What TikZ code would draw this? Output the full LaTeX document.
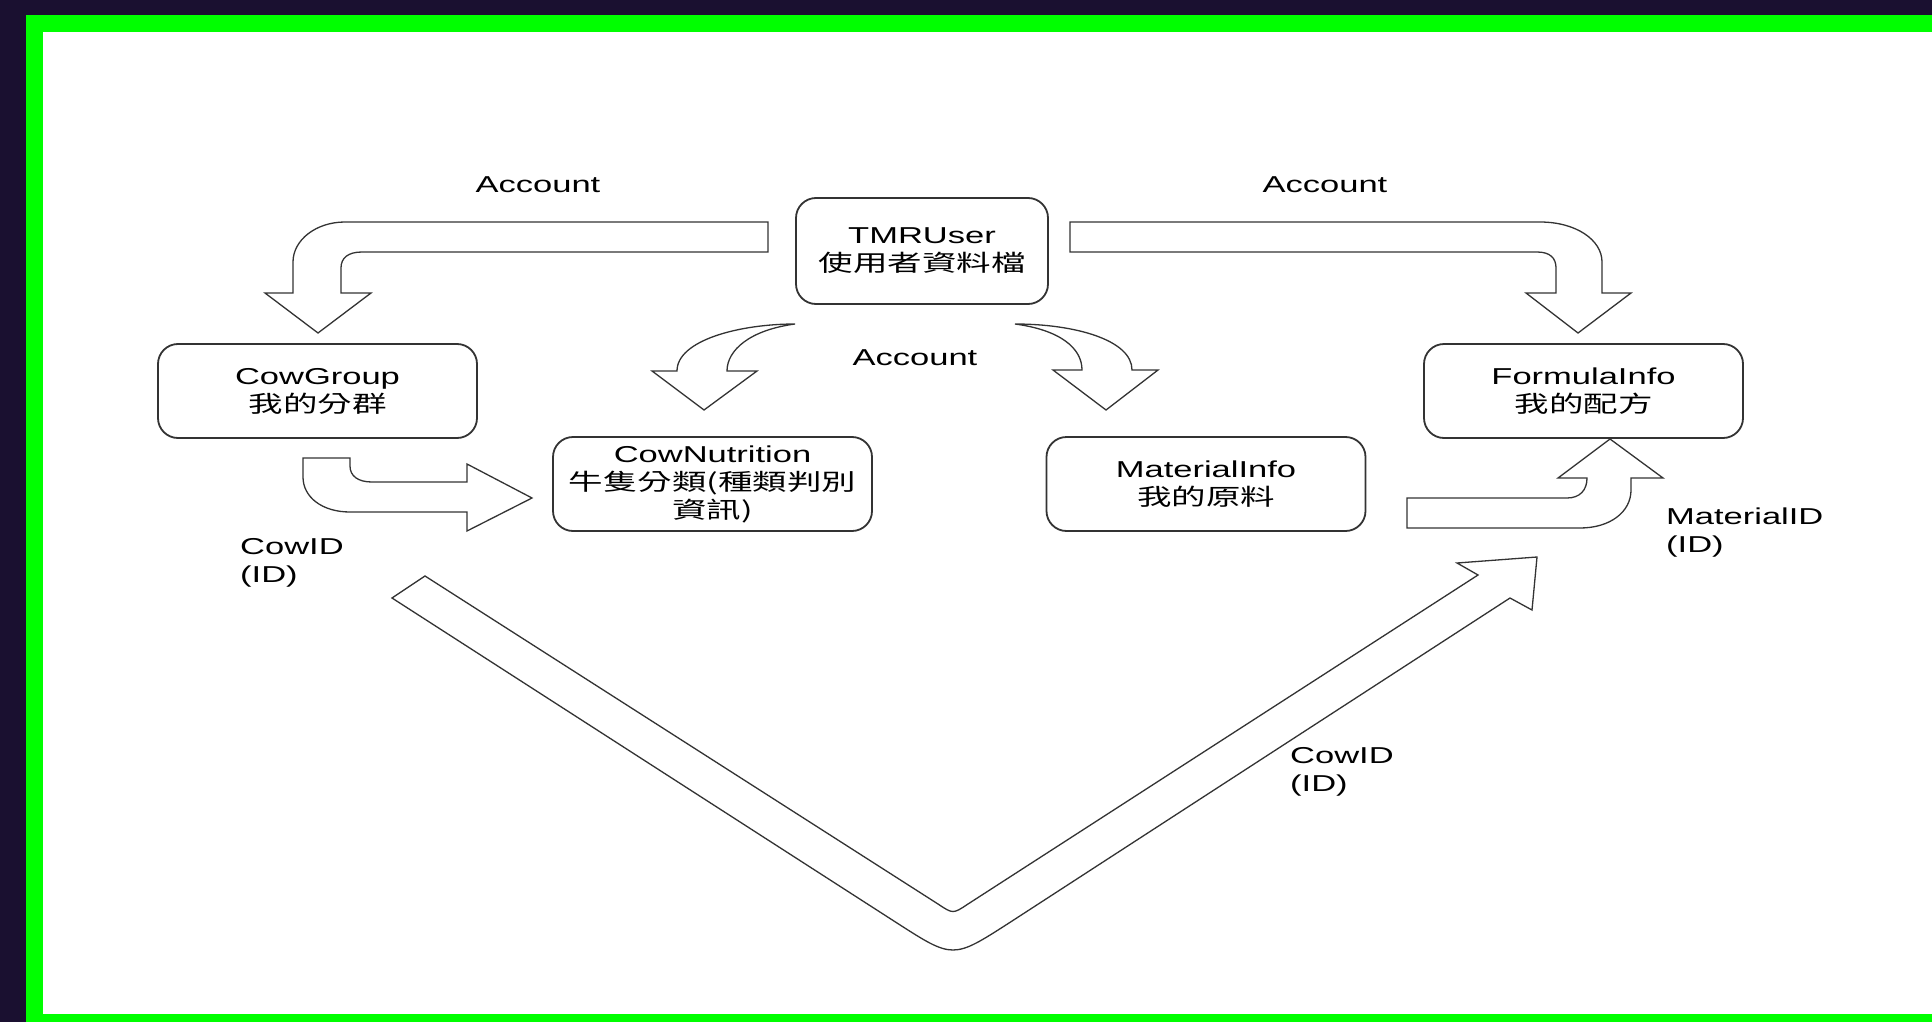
\documentclass[tikz,border=0pt]{standalone}
\usepackage{fontspec}
\setmainfont{Liberation Sans}[FakeStretch=1.5]
\newfontfamily\cjk{Noto Sans CJK TC}[FakeStretch=1.5]
\usepackage{tikz}
\definecolor{framebg}{HTML}{1A1030}
\definecolor{framegreen}{HTML}{00FF00}
\definecolor{inkgray}{HTML}{333333}

\begin{document}
\begin{tikzpicture}[
			x=1pt, y=-1pt,
			every node/.style={inner sep=0pt, font=\fontsize{23}{28}\selectfont},
			entity/.style={draw=inkgray, line width=1.8pt, rounded corners=20pt, minimum width=319pt, minimum height=94pt, align=center},
			note/.style={align=left, anchor=west},
			blockarrow/.style={draw=inkgray, line width=1.3pt, fill=white, line join=miter}
			]
			\useasboundingbox (0,0) rectangle (1932,1022);
			\fill[framebg] (0,0) rectangle (1932,1022);
			\fill[framegreen] (26,15) rectangle (1932,1022);
			\fill[white] (43,32) rectangle (1932,1014);
			% tables
			\node[entity, minimum width=252pt, minimum height=106pt] (tmruser) at (922,251) {TMRUser\\{\cjk 使用者資料檔}};
			\node[entity] (cowgroup) at (317.5,391) {CowGroup\\{\cjk 我的分群}};
			\node[entity] (formulainfo) at (1583.5,391) {FormulaInfo\\{\cjk 我的配方}};
			\node[entity] (cownutrition) at (712.5,484) {CowNutrition\\{\cjk 牛隻分類(種類判別}\\{\cjk 資訊)}};
			\node[entity] (materialinfo) at (1206,484) {MaterialInfo\\{\cjk 我的原料}};
			% keys
			\node (acctleft) at (538,185) {Account};
			\node (acctright) at (1325,185) {Account};
			\node (acctmid) at (915,358) {Account};
			\node[note] (cowidleft) at (240,563) {CowID\\(ID)};
			\node[note] (materialid) at (1666,533) {MaterialID\\(ID)};
			\node[note] (cowidright) at (1290,772) {CowID\\(ID)};
			% block arrows
			\draw[blockarrow] (768,222) -- (345,222) .. controls (316,222) and (293,240) .. (293,262)
				-- (293,293) -- (265,293) -- (318,333) -- (371,293) -- (341,293) -- (341,268)
				.. controls (341,258) and (348,252) .. (362,252) -- (768,252) -- cycle;
			\draw[blockarrow] (1070,222) -- (1540,222) .. controls (1576,222) and (1602,240) .. (1602,262)
				-- (1602,293) -- (1631,293) -- (1578,333) -- (1526,293) -- (1556,293) -- (1556,268)
				.. controls (1556,258) and (1550,252) .. (1537,252) -- (1070,252) -- cycle;
			\draw[blockarrow] (795,324) .. controls (740,324) and (677,340) .. (677,371)
				-- (652,371) -- (704,410) -- (757,371) -- (727,371)
				.. controls (727,350) and (750,330) .. (795,324) -- cycle;
			\draw[blockarrow] (1015,324) .. controls (1075,324) and (1132,340) .. (1132,370)
				-- (1158,370) -- (1106,410) -- (1053,370) -- (1082,370)
				.. controls (1082,348) and (1060,330) .. (1015,324) -- cycle;
			\draw[blockarrow] (303,458) -- (350,458) -- (350,466) .. controls (350,476) and (358,482) .. (372,482)
				-- (467,482) -- (467,464) -- (532,498) -- (467,531) -- (467,512) -- (350,512)
				.. controls (322,512) and (303,497) .. (303,477) -- cycle;
			\draw[blockarrow] (1407,498) -- (1567,498) .. controls (1580,498) and (1587,490) .. (1587,478)
				-- (1558,478) -- (1610,439) -- (1663,478) -- (1631,478) -- (1631,490)
				.. controls (1631,512) and (1610,528) .. (1580,528) -- (1407,528) -- cycle;
			\draw[blockarrow] (425,576) -- (938,904) .. controls (953,914) .. (968,904)
				-- (1478,575) -- (1457,563) -- (1537,557) -- (1532,610) -- (1510,598)
				-- (1009,923) .. controls (953,959) .. (897,923) -- (392,598) -- cycle;
		\end{tikzpicture}
\end{document}
